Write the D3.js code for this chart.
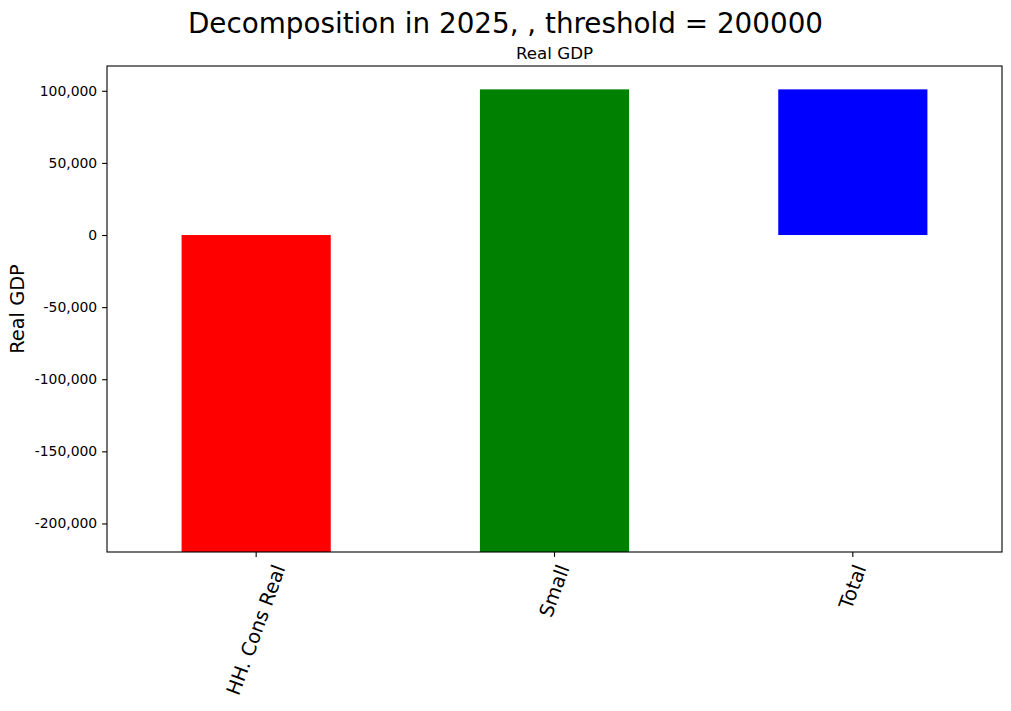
<!DOCTYPE html>
<html>
<head>
<meta charset="utf-8">
<script src="https://cdn.jsdelivr.net/npm/d3@7"></script>
<style>
  html, body { margin: 0; padding: 0; background: #fff; }
  svg { display: block; font-family: "DejaVu Sans", sans-serif; }
</style>
</head>
<body>
<svg id="chart" width="1011" height="711"></svg>
<script>
// ---- data ----
const categories = ["HH. Cons Real", "Small", "Total"];
const values = [-300000, 401000, 101000];   // last entry is the total
const isTotal = [false, false, true];
const barColors = ["#ff0000", "#008000", "#0000ff"];
const yTicks = [100000, 50000, 0, -50000, -100000, -150000, -200000];
const yDomain = [-219800, 117200];
const titleText = "Decomposition in 2025, , threshold = 200000";
const subTitle = "Real GDP";
const yLabel = "Real GDP";

// ---- layout ----
const W = 1011, H = 711;
const m = { left: 107, right: 1002, top: 66, bottom: 552 };
const svg = d3.select("#chart");

const x = d3.scaleBand().domain(categories).range([m.left, m.right])
  .paddingInner(0.5).paddingOuter(0.25);
const y = d3.scaleLinear().domain(yDomain).range([m.bottom, m.top]);

// waterfall spans
let cum = 0;
const bars = categories.map((c, i) => {
  let start, end;
  if (isTotal[i]) { start = 0; end = values[i]; }
  else { start = cum; end = cum + values[i]; cum = end; }
  return { cat: c, start, end, color: barColors[i] };
});

svg.append("defs").append("clipPath").attr("id", "clip")
  .append("rect").attr("x", m.left).attr("y", m.top)
  .attr("width", m.right - m.left).attr("height", m.bottom - m.top);

svg.append("g").attr("clip-path", "url(#clip)")
  .selectAll("rect").data(bars).join("rect")
  .attr("x", d => x(d.cat))
  .attr("width", x.bandwidth())
  .attr("y", d => y(Math.max(d.start, d.end)))
  .attr("height", d => Math.abs(y(d.start) - y(d.end)))
  .attr("fill", d => d.color);

// y axis
const fmt = d3.format(",");
const yAxis = d3.axisLeft(y).tickValues(yTicks).tickSize(4.9).tickPadding(4.9)
  .tickFormat(d => fmt(d).replace("−", "-"));
const gy = svg.append("g").attr("transform", `translate(${m.left},0)`).call(yAxis);
gy.select(".domain").remove();
gy.selectAll(".tick line").attr("stroke", "#000").attr("stroke-width", 1.1);
gy.selectAll(".tick text").attr("font-size", 13.9).attr("fill", "#000")
  .attr("font-family", "DejaVu Sans, sans-serif");

// x axis ticks
const gx = svg.append("g");
categories.forEach(c => {
  const cx = x(c) + x.bandwidth() / 2;
  gx.append("line").attr("x1", cx).attr("x2", cx)
    .attr("y1", m.bottom).attr("y2", m.bottom + 4.9)
    .attr("stroke", "#000").attr("stroke-width", 1.1);
  const fs = 19.4;
  const t = gx.append("text").text(c)
    .attr("font-size", fs).attr("text-anchor", "middle")
    .attr("dominant-baseline", "central").attr("fill", "#000");
  const w = t.node().getComputedTextLength();
  const h = fs * 1.164;
  const a = 70 * Math.PI / 180;
  const bh = w * Math.sin(a) + h * Math.cos(a);
  const cy = m.bottom + 4.9 + 4.9 + bh / 2;
  t.attr("transform", `translate(${cx},${cy}) rotate(-70)`);
});

// frame
svg.append("rect").attr("x", m.left).attr("y", m.top)
  .attr("width", m.right - m.left).attr("height", m.bottom - m.top)
  .attr("fill", "none").attr("stroke", "#000").attr("stroke-width", 1.1);

// titles
svg.append("text").text(titleText).attr("x", W / 2).attr("y", 33)
  .attr("text-anchor", "middle").attr("font-size", 27.8).attr("fill", "#000");
svg.append("text").text(subTitle).attr("x", (m.left + m.right) / 2).attr("y", 58.5)
  .attr("text-anchor", "middle").attr("font-size", 16.7).attr("fill", "#000");
svg.append("text").text(yLabel)
  .attr("transform", `translate(24,${(m.top + m.bottom) / 2}) rotate(-90)`)
  .attr("text-anchor", "middle").attr("font-size", 19.4).attr("fill", "#000");
</script>
</body>
</html>
